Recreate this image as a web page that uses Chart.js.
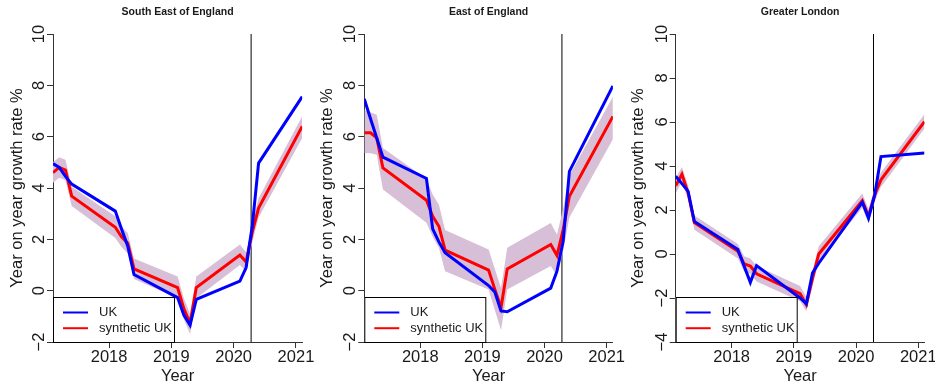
<!DOCTYPE html>
<html>
<head>
<meta charset="utf-8">
<script src="https://cdn.jsdelivr.net/npm/chart.js@4/dist/chart.umd.min.js"></script>
<style>
  html, body { margin: 0; padding: 0; background: #fff; }
  #wrap { position: relative; width: 935px; height: 383px; overflow: hidden; }
  #wrap canvas { position: absolute; left: 0; top: 0; }
</style>
</head>
<body>
<div id="wrap">
  <canvas id="c0" width="935" height="383"></canvas>
  <canvas id="c1" width="935" height="383"></canvas>
  <canvas id="c2" width="935" height="383"></canvas>
</div>
<script>
// Quarters coded as year + quarter/10 (2017.1 = 2017 Q1)
const quarters = [2017.1, 2017.2, 2017.3, 2017.4, 2018.1, 2018.2, 2018.3, 2018.4,
                  2019.1, 2019.2, 2019.3, 2019.4, 2020.1, 2020.2, 2020.3, 2020.4, 2021.1];
const yearTicks = [2018, 2019, 2020, 2021];
const treatmentQuarter = 2020.28;

const regionNames = ['South East of England', 'East of England', 'Greater London'];
const yAxisMin = [-2, -2, -4];
const yAxisMax = 10;

// South East of England
const seUK    = [4.95, 4.8, 4.45, 4.15, 3.1, 2.4, 1.73, 0.63, -0.27, -0.95, -1.34, -0.34, 0.37, 0.9, 2.55, 4.97, 7.56];
const seSynth = [4.6, 4.8, 4.7, 3.68, 2.47, 2.1, 1.85, 0.85, 0.12, -0.7, -1.27, 0.12, 1.39, 1.12, 2.3, 3.22, 6.4];
const seUpper = [5.0, 5.2, 5.1, 4.05, 2.9, 2.5, 2.25, 1.25, 0.55, -0.3, -0.9, 0.55, 1.8, 1.5, 2.7, 3.6, 6.8];
const seLower = [4.2, 4.4, 4.3, 3.3, 2.05, 1.7, 1.45, 0.45, -0.3, -1.1, -1.7, -0.3, 1.0, 0.75, 1.9, 2.85, 5.95];

// East of England
const eeUK    = [7.47, 6.7, 5.95, 5.2, 4.37, 2.41, 1.9, 1.48, 0.2, -0.05, -0.79, -0.82, 0.1, 0.76, 1.93, 4.65, 7.98];
const eeSynth = [6.15, 6.15, 5.95, 4.78, 3.52, 2.9, 2.51, 1.58, 0.8, 0.05, -0.66, 0.85, 1.8, 1.37, 2.38, 3.68, 6.79];
const eeUpper = [7.05, 6.95, 6.85, 5.56, 4.35, 3.75, 3.35, 2.36, 1.6, 0.85, 0.1, 1.67, 2.64, 2.19, 3.2, 4.5, 7.56];
const eeLower = [5.36, 5.35, 5.3, 3.94, 2.65, 2.1, 1.67, 0.76, 0.05, -0.75, -1.54, 0.05, 0.96, 0.57, 1.55, 2.85, 5.9];

// Greater London
const glUK    = [3.53, 3.2, 2.85, 1.48, 0.2, -0.55, -1.29, -0.53, -2.0, -2.26, -0.86, -0.42, 2.35, 1.63, 2.69, 4.43, 4.59];
const glSynth = [3.1, 3.62, 2.77, 1.43, 0.12, -0.45, -0.55, -0.9, -1.8, -2.3, -1.1, 0.0, 2.42, 1.71, 2.7, 3.37, 6.02];
const glUpper = [3.45, 3.95, 3.1, 1.75, 0.45, -0.1, -0.2, -0.55, -1.45, -1.95, -0.75, 0.35, 2.75, 2.05, 3.0, 3.7, 6.35];
const glLower = [2.75, 3.3, 2.45, 1.1, -0.2, -0.8, -0.9, -1.25, -2.15, -2.6, -1.45, -0.35, 2.1, 1.4, 2.4, 3.05, 5.7];

const FONT = '"Liberation Sans", Arial, Helvetica, sans-serif';
const INK = '#1a1a1a';

const pair = vals => vals.map((v, i) => ({ x: quarters[i], y: v }));
const minusSign = v => (v < 0 ? '\u2212' + Math.abs(v) : String(v));

// Boxed legend in the bottom-left corner of the plot area
const boxLegend = {
  id: 'boxLegend',
  afterDatasetsDraw(chart) {
    const { ctx, chartArea: a } = chart;
    const w = 121, h = 45;
    const x = a.left, y = a.bottom - h;
    ctx.save();
    ctx.fillStyle = '#fff';
    ctx.fillRect(x, y, w, h);
    ctx.strokeStyle = '#000';
    ctx.lineWidth = 1;
    ctx.strokeRect(x + 0.5, y + 0.5, w, h);
    ctx.font = '13px ' + FONT;
    ctx.textBaseline = 'middle';
    chart.data.datasets.filter(d => d.inLegend).forEach((d, i) => {
      const ly = y + 15.5 + i * 15.7;
      ctx.strokeStyle = d.borderColor;
      ctx.lineWidth = 2;
      ctx.beginPath();
      ctx.moveTo(x + 10, ly);
      ctx.lineTo(x + 35, ly);
      ctx.stroke();
      ctx.fillStyle = INK;
      ctx.fillText(d.label, x + 46, ly);
    });
    ctx.restore();
  }
};

const panels = [
  { id: 'c0', uk: seUK, synth: seSynth, upper: seUpper, lower: seLower, padL: 0,     yW: 53,   padR: 632.8 },
  { id: 'c1', uk: eeUK, synth: eeSynth, upper: eeUpper, lower: eeLower, padL: 310.3, yW: 54,   padR: 322.1 },
  { id: 'c2', uk: glUK, synth: glSynth, upper: glUpper, lower: glLower, padL: 621,   yW: 54.7, padR: 10.5 }
];

panels.forEach((p, k) => {
  const yMin = yAxisMin[k];
  const axisGrid = { display: true, drawOnChartArea: false, drawTicks: true, tickLength: 6, color: '#333', lineWidth: 1 };
  const axisBorder = { display: true, color: '#333', width: 1 };
  new Chart(document.getElementById(p.id), {
    type: 'line',
    data: {
      datasets: [
        { label: 'UK', data: pair(p.uk), borderColor: '#0000ff', borderWidth: 3,
          pointRadius: 0, fill: false, inLegend: true, order: 0 },
        { label: 'synthetic UK', data: pair(p.synth), borderColor: '#ff0000', borderWidth: 3,
          pointRadius: 0, fill: false, inLegend: true, order: 1 },
        { label: 'upper', data: pair(p.upper), borderWidth: 0, borderColor: 'rgba(0,0,0,0)',
          backgroundColor: '#d8bfd8', pointRadius: 0, fill: '+1', order: 2 },
        { label: 'lower', data: pair(p.lower), borderWidth: 0, borderColor: 'rgba(0,0,0,0)',
          pointRadius: 0, fill: false, order: 3 },
        { label: 'treatment', data: [{ x: treatmentQuarter, y: yMin }, { x: treatmentQuarter, y: yAxisMax }],
          borderColor: '#000', borderWidth: 1, pointRadius: 0, fill: false, order: 4 }
      ]
    },
    options: {
      responsive: false,
      animation: false,
      devicePixelRatio: 1,
      layout: { padding: { left: p.padL, right: p.padR, top: 0, bottom: 0 } },
      plugins: {
        legend: { display: false },
        tooltip: { enabled: false },
        title: {
          display: true, text: regionNames[k], fullSize: false, color: INK,
          font: { family: FONT, size: 10.5, weight: 'bold' },
          padding: { top: 6, bottom: 15.4 }
        }
      },
      scales: {
        x: {
          type: 'linear', min: 2017.1, max: 2021.1,
          afterBuildTicks: s => { s.ticks = yearTicks.map(v => ({ value: v })); },
          afterFit: s => { s.height = 41; s.paddingLeft = 0; s.paddingRight = 0; },
          grid: axisGrid, border: axisBorder,
          ticks: { font: { family: FONT, size: 16.5 }, color: INK, padding: 0,
                   maxRotation: 0, autoSkip: false, callback: v => String(v) },
          title: { display: true, text: 'Year', color: INK,
                   font: { family: FONT, size: 16.5, lineHeight: 1 }, padding: { top: 0, bottom: -1.5 } }
        },
        y: {
          min: yMin, max: yAxisMax,
          afterFit: s => { s.width = p.yW; },
          grid: axisGrid, border: axisBorder,
          ticks: { stepSize: 2, minRotation: 90, maxRotation: 90, crossAlign: 'center', padding: -2,
                   font: { family: FONT, size: 16.5 }, color: INK, callback: minusSign },
          title: { display: true, text: 'Year on year growth rate %', color: INK,
                   font: { family: FONT, size: 16.5, lineHeight: 1 }, padding: { top: 9, bottom: 0 } }
        }
      }
    },
    plugins: [boxLegend]
  });
});
</script>
</body>
</html>
